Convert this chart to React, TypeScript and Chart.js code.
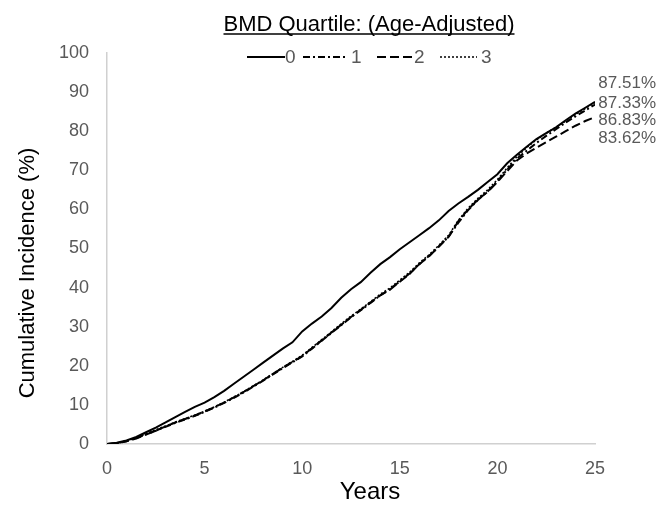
import React, { useEffect, useRef } from "react";
import { Chart, registerables } from "chart.js";

Chart.register(...registerables);

const years = [0, 0.5, 1, 1.5, 2, 2.5, 3, 3.5, 4, 4.5, 5, 5.5, 6, 6.5, 7, 7.5, 8, 8.5, 9, 9.5, 10, 10.5, 11, 11.5, 12, 12.5, 13, 13.5, 14, 14.5, 15, 15.5, 16, 16.5, 17, 17.5, 18, 18.5, 19, 19.5, 20, 20.5, 21, 21.5, 22, 22.5, 23, 23.5, 24, 24.5, 25];

const q0 = [0, 0.3, 0.9, 1.8, 3.0, 4.2, 5.5, 6.9, 8.2, 9.5, 10.6, 12.0, 13.6, 15.4, 17.2, 19.0, 20.8, 22.6, 24.4, 26.0, 28.8, 30.8, 32.6, 34.8, 37.4, 39.6, 41.4, 43.8, 46.0, 47.8, 49.8, 51.6, 53.4, 55.2, 57.2, 59.6, 61.5, 63.2, 65.0, 67.0, 69.0, 71.8, 74.0, 76.0, 78.0, 79.5, 81.0, 82.8, 84.5, 86.0, 87.51];
const q1 = [0, 0.2, 0.7, 1.5, 2.5, 3.4, 4.4, 5.4, 6.3, 7.2, 8.2, 9.3, 10.5, 11.8, 13.2, 14.7, 16.2, 17.8, 19.4, 20.9, 22.4, 24.4, 26.4, 28.4, 30.4, 32.4, 34.2, 36.1, 38.0, 39.6, 41.6, 43.6, 46.0, 48.1, 50.5, 53.0, 56.6, 59.8, 62.4, 64.6, 67.2, 70.2, 73.0, 75.0, 77.0, 78.8, 80.5, 82.2, 83.8, 85.3, 86.83];
const q2 = [0, 0.2, 0.7, 1.4, 2.4, 3.4, 4.5, 5.5, 6.4, 7.3, 8.3, 9.4, 10.6, 11.9, 13.3, 14.8, 16.3, 17.9, 19.5, 21.0, 22.5, 24.5, 26.5, 28.5, 30.5, 32.5, 34.3, 36.2, 38.0, 39.5, 41.5, 43.5, 46.0, 48.0, 50.5, 53.0, 57.0, 60.0, 62.5, 64.5, 67.0, 69.8, 72.5, 74.3, 75.8, 77.2, 78.6, 80.0, 81.4, 82.6, 83.62];
const q3 = [0, 0.2, 0.8, 1.6, 2.6, 3.6, 4.6, 5.6, 6.5, 7.4, 8.4, 9.5, 10.7, 12.0, 13.4, 14.9, 16.4, 18.0, 19.6, 21.1, 22.7, 24.7, 26.7, 28.7, 30.7, 32.7, 34.5, 36.4, 38.3, 39.9, 41.9, 43.9, 46.3, 48.4, 50.8, 53.4, 57.2, 60.3, 62.8, 65.0, 67.6, 70.6, 73.5, 75.8, 77.8, 79.5, 81.0, 82.6, 84.3, 85.8, 87.33];

const seriesNames = ["0", "1", "2", "3"];
const seriesValues = [q0, q1, q2, q3];
const seriesDash = [[], [7, 3, 2, 3], [9, 4], [2, 2]];
const endLabels = ["87.51%", "87.33%", "86.83%", "83.62%"];
const xTicks = [0, 5, 10, 15, 20, 25];

const titleText = "BMD Quartile: (Age-Adjusted)";
const xTitle = "Years";
const yTitle = "Cumulative Incidence (%)";

const FONT = "'Liberation Sans', Arial, sans-serif";
const GRAY = "#595959";

const decorPlugin = {
  id: "decor",
  afterDraw(chart: any) {
    const ctx = chart.ctx;
    ctx.save();
    // Title
    ctx.fillStyle = "#000";
    ctx.font = `22px ${FONT}`;
    ctx.textAlign = "center";
    ctx.textBaseline = "alphabetic";
    const tx = 369, ty = 31;
    ctx.fillText(titleText, tx, ty);
    const tw = ctx.measureText(titleText).width;
    ctx.strokeStyle = "#000";
    ctx.lineWidth = 1.5;
    ctx.beginPath();
    ctx.moveTo(tx - tw / 2, ty + 3);
    ctx.lineTo(tx + tw / 2, ty + 3);
    ctx.stroke();

    // Legend
    const legendY = 57;
    const items = [
      { x0: 247, x1: 285, tx: 285 },
      { x0: 303, x1: 347, tx: 351 },
      { x0: 377, x1: 413, tx: 414 },
      { x0: 440, x1: 477, tx: 481 },
    ];
    ctx.font = `19px ${FONT}`;
    ctx.textAlign = "left";
    ctx.textBaseline = "middle";
    items.forEach((it, i) => {
      ctx.strokeStyle = "#000";
      ctx.lineWidth = i === 3 ? 1.5 : 2;
      ctx.setLineDash(seriesDash[i]);
      ctx.beginPath();
      ctx.moveTo(it.x0, legendY);
      ctx.lineTo(it.x1, legendY);
      ctx.stroke();
      ctx.setLineDash([]);
      ctx.fillStyle = GRAY;
      ctx.fillText(seriesNames[i], it.tx, legendY + 1);
    });

    // End labels
    ctx.font = `17px ${FONT}`;
    ctx.textAlign = "right";
    ctx.fillStyle = GRAY;
    const ys = [83, 103, 120, 138];
    endLabels.forEach((t, i) => ctx.fillText(t, 656, ys[i]));

    // Axis titles
    ctx.fillStyle = "#000";
    ctx.font = `24px ${FONT}`;
    ctx.textAlign = "center";
    ctx.fillText(xTitle, 370, 492);
    ctx.font = `22px ${FONT}`;
    ctx.translate(28, 273);
    ctx.rotate(-Math.PI / 2);
    ctx.fillText(yTitle, 0, 0);
    ctx.restore();
  },
};

export default function App() {
  const ref = useRef<HTMLCanvasElement>(null);
  useEffect(() => {
    if (!ref.current) return;
    const chart = new Chart(ref.current, {
      type: "line",
      data: {
        datasets: seriesValues.map((vals, i) => ({
          label: seriesNames[i],
          data: years.map((x, j) => ({ x, y: vals[j] })),
          borderColor: "#000",
          borderWidth: i === 3 ? 1.6 : 2,
          borderDash: seriesDash[i],
          pointRadius: 0,
          fill: false,
          tension: 0,
        })),
      },
      options: {
        animation: false,
        responsive: false,
        layout: { padding: { top: 53, right: 71, left: 0, bottom: 0 } },
        plugins: {
          legend: { display: false },
          title: { display: false },
          tooltip: { enabled: false },
        },
        scales: {
          x: {
            type: "linear",
            min: 0,
            max: 25,
            afterBuildTicks: (s: any) => {
              s.ticks = xTicks.map((v) => ({ value: v }));
            },
            afterFit: (s: any) => {
              s.height = 513 - 444;
            },
            grid: { display: false, drawTicks: false },
            border: { display: true, color: "#d0d0d0", width: 1.5 },
            ticks: { color: GRAY, font: { family: FONT, size: 18 }, padding: 14, maxRotation: 0 },
          },
          y: {
            type: "linear",
            min: 0,
            max: 100,
            afterFit: (s: any) => {
              s.width = 107;
            },
            grid: { display: false, drawTicks: false },
            border: { display: true, color: "#d0d0d0", width: 1.5 },
            ticks: { stepSize: 10, color: GRAY, font: { family: FONT, size: 18 }, padding: 18 },
          },
        },
      },
      plugins: [decorPlugin],
    });
    return () => chart.destroy();
  }, []);
  return (
    <div style={{ position: "fixed", left: 0, top: 0, width: 666, height: 513, background: "#fff" }}>
      <canvas ref={ref} width={666} height={513} style={{ width: 666, height: 513 }} />
    </div>
  );
}
